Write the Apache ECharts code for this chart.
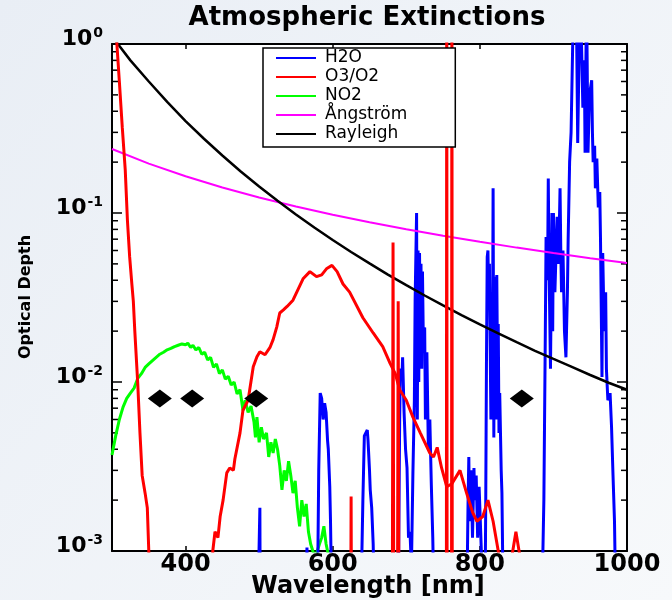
<!DOCTYPE html>
<html>
<head>
<meta charset="utf-8">
<script src="https://cdn.jsdelivr.net/npm/echarts@6/dist/echarts.min.js"></script>
<style>
  html, body { margin: 0; padding: 0; }
  #chart { width: 672px; height: 600px; }
</style>
</head>
<body>
<div id="chart"></div>
<script>
// values, wavelength in nm, optical depth
const B = 0.0004; // below the plotted range (drawn off the bottom)

const waveTicks = [400, 600, 800, 1000];
const depthTicks = [0.001, 0.01, 0.1, 1];
const minorDepthTicks = [
  0.002, 0.003, 0.004, 0.005, 0.006, 0.007, 0.008, 0.009,
  0.02, 0.03, 0.04, 0.05, 0.06, 0.07, 0.08, 0.09,
  0.2, 0.3, 0.4, 0.5, 0.6, 0.7, 0.8, 0.9
];
const legendNames = ['H2O', 'O3/O2', 'NO2', 'Ångström', 'Rayleigh'];

const rayleigh = [
  [305, 1.04], [325, 0.80], [350, 0.60], [375, 0.454], [400, 0.350], [425, 0.275],
  [450, 0.219], [475, 0.176], [500, 0.1435], [525, 0.118], [550, 0.098], [575, 0.082],
  [600, 0.0692], [625, 0.0588], [650, 0.0503], [675, 0.0432], [700, 0.0374], [725, 0.0325],
  [750, 0.0284], [775, 0.0249], [800, 0.0219], [825, 0.0194], [850, 0.0172], [875, 0.0153],
  [900, 0.0137], [925, 0.0123], [950, 0.0110], [975, 0.0099], [1000, 0.0090]
];

const angstrom = [
  [300, 0.239], [350, 0.196], [400, 0.165], [450, 0.1416], [500, 0.1236], [550, 0.1093],
  [600, 0.0977], [650, 0.0882], [700, 0.0801], [750, 0.0733], [800, 0.0675], [850, 0.0624],
  [900, 0.0580], [950, 0.0540], [1000, 0.0506]
];

const no2 = [
  [300, 0.0037], [305, 0.0048], [310, 0.0060], [315, 0.0071], [320, 0.0080], [325, 0.0086],
  [330, 0.0092], [335, 0.0105], [340, 0.0112], [345, 0.0122], [350, 0.0128], [355, 0.0134],
  [360, 0.0140], [365, 0.0146], [370, 0.0150], [375, 0.0155], [380, 0.0158], [385, 0.0162],
  [390, 0.0165], [395, 0.0168], [400, 0.0166], [403, 0.0170], [407, 0.0160], [410, 0.0165],
  [414, 0.0155], [418, 0.0160], [422, 0.0146], [426, 0.0150], [430, 0.0135], [434, 0.0140],
  [438, 0.0122], [442, 0.0128], [446, 0.0112], [450, 0.0118], [454, 0.0104], [458, 0.0108],
  [462, 0.0096], [466, 0.0100], [470, 0.0085], [474, 0.0090], [478, 0.0068], [481, 0.0078],
  [485, 0.0066], [489, 0.0072], [493, 0.0058], [495, 0.0047], [497, 0.0062], [500, 0.0044],
  [503, 0.0054], [506, 0.0046], [510, 0.0050], [513, 0.0036], [516, 0.0044], [519, 0.0038],
  [522, 0.0046], [525, 0.0040], [528, 0.0032], [531, 0.0023], [534, 0.0030], [537, 0.0026],
  [540, 0.0034], [543, 0.0028], [546, 0.0022], [549, 0.0026], [552, 0.0018], [555, 0.0014],
  [558, 0.0020], [561, 0.0016], [564, 0.0019], [567, 0.0013], [570, 0.0011], [573, 0.0010],
  [576, 0.0009], [579, 0.0010], [582, 0.0011], [585, 0.0012], [588, 0.0014], [591, 0.0011],
  [594, 0.00095], [597, 0.0009], [600, B]
];

const o3 = [
  [303, 2.0], [306, 1.1], [310, 0.6], [314, 0.32], [318, 0.18], [321, 0.09], [324, 0.055],
  [327, 0.038], [329, 0.030], [331, 0.020], [335, 0.0098], [338, 0.0050], [341, 0.0028],
  [345, 0.0022], [348, 0.0018], [350, 0.0010], [352, B], [436, B], [437, 0.0010],
  [440, 0.0013], [444, 0.0012], [447, 0.0016], [451, 0.0020], [456, 0.0029], [460, 0.0031],
  [465, 0.0030], [467, 0.0035], [474, 0.0050], [478, 0.0068], [485, 0.0078], [492, 0.0123],
  [497, 0.0141], [501, 0.0151], [508, 0.0145], [515, 0.0161], [519, 0.0178], [524, 0.0212],
  [528, 0.0256], [533, 0.0267], [538, 0.0280], [546, 0.0305], [560, 0.041], [569, 0.045],
  [578, 0.042], [585, 0.043], [592, 0.047], [599, 0.049], [606, 0.045], [614, 0.038],
  [623, 0.034], [641, 0.024], [655, 0.0195], [668, 0.0162], [678, 0.0129], [685, 0.0112],
  [691, 0.0090], [700, 0.0078], [709, 0.0062], [719, 0.0050], [732, 0.0038], [737, 0.0036],
  [742, 0.0041], [748, 0.0031], [755, 0.0024], [762, 0.0025], [773, 0.0030], [782, 0.0022],
  [790, 0.0017], [796, 0.0015], [804, 0.0016], [811, 0.0020], [818, 0.0015], [825, 0.0010],
  [830, 0.0007], [843, 0.0009], [849, 0.0013], [855, 0.0009], [860, B]
];

const o2 = [
  [620, B], [624.5, B], [625, 0.0021], [625.5, B],
  [681, B], [682, 0.067], [683, B], [688, B], [689, 0.03], [690, B],
  [754.5, B], [755, 5], [755.5, B], [761.5, B], [762, 5], [762.5, B], [770, B]
];

const h2o = [
  [498, B], [500.5, B], [501, 0.0018], [501.5, B],
  [563, B], [565, 0.00105], [567, B],
  [579, B], [581, 0.003], [583, 0.0086], [585, 0.0080], [587, 0.0060], [589, 0.0075],
  [591, 0.0066], [593, 0.0045], [594, 0.0040], [596, 0.0024], [597, 0.0015], [599, B],
  [638, B], [641, 0.002], [643, 0.0048], [645, 0.0050], [647, 0.0052], [648, 0.0045],
  [650, 0.0030], [651, 0.0023], [653, 0.0018], [655, 0.0011], [657, B],
  [689, B], [691, 0.006], [692, 0.012], [694, 0.0102], [695, 0.014], [697, 0.0066],
  [699, 0.004], [701, 0.0031], [703, 0.0012], [705, 0.0013], [707, 0.0008], [709, 0.0029],
  [711, 0.0078], [712, 0.03], [714, 0.10], [715, 0.006], [716, 0.06], [717, 0.01],
  [718, 0.058], [719, 0.02], [720, 0.05], [721, 0.012], [722, 0.045], [723, 0.02],
  [725, 0.021], [726, 0.006], [728, 0.015], [730, 0.004], [732, 0.006], [734, 0.0025],
  [736, 0.0012], [738, B],
  [782, B], [784, 0.002], [785, 0.0036], [786, 0.0015], [788, 0.0030], [790, 0.0012],
  [792, 0.0031], [793, 0.002], [795, 0.0028], [797, 0.0012], [799, 0.0024], [800, 0.0018],
  [802, 0.001], [804, B],
  [807, B], [808, 0.002], [809, 0.0135], [810, 0.055], [811, 0.06], [812, 0.03],
  [813, 0.05], [815, 0.006], [817, 0.01], [818, 0.14], [819, 0.0047], [820, 0.042],
  [822, 0.006], [823, 0.043], [824, 0.012], [825, 0.022], [826, 0.005], [827, 0.0086],
  [829, 0.003], [830, 0.0022], [832, B],
  [884, B], [887, 0.002], [889, 0.02], [890, 0.072], [892, 0.04], [893, 0.16], [894, 0.05],
  [896, 0.012], [898, 0.1], [899, 0.02], [900, 0.1], [902, 0.034], [904, 0.034],
  [905, 0.095], [907, 0.05], [909, 0.14], [910, 0.06], [911, 0.034], [913, 0.06],
  [915, 0.02], [917, 0.014], [919, 0.034], [920, 0.069], [922, 0.2], [924, 0.30],
  [926, 0.9], [927, 1.5], [929, 1.2], [931, 2], [933, 0.26], [934, 0.5], [936, 2],
  [938, 1.1], [940, 0.42], [942, 0.8], [943, 0.227], [945, 2], [947, 0.227], [949, 0.5],
  [952, 0.61], [953, 0.3], [954, 0.2], [956, 0.25], [957, 0.14], [959, 0.21], [961, 0.108],
  [963, 0.133], [964, 0.069], [966, 0.0107], [967, 0.058], [969, 0.02], [971, 0.034],
  [972, 0.012], [974, 0.0078], [977, 0.0086], [979, 0.0054], [981, 0.0028], [983, 0.0015],
  [985, B], [1000, B]
];

const filters = [[365, 0.008], [409, 0.008], [496, 0.008], [857, 0.008]];

const axisFont = 'DejaVu Sans';

function lineSeries(name, data, color, width) {
  return {
    name: name,
    type: 'line',
    data: data,
    showSymbol: false,
    symbol: 'none',
    lineStyle: {color: color, width: width},
    itemStyle: {color: color},
    clip: true,
    silent: true
  };
}

const logAxis = (position, showLabel) => ({
  type: 'log',
  logBase: 10,
  min: depthTicks[0],
  max: depthTicks[depthTicks.length - 1],
  position: position,
  axisLine: {show: true, lineStyle: {color: '#000', width: 2}},
  axisTick: {show: true, inside: true, length: 10, lineStyle: {color: '#000', width: 1.5}},
  splitLine: {show: false},
  axisLabel: {
    show: showLabel,
    margin: 9,
    padding: [0, 0, 12, 0],
    formatter(v) {
      return '{b|10}{s|' + Math.round(Math.log10(v)) + '}';
    },
    rich: {
      b: {fontFamily: axisFont, fontWeight: 'bold', fontSize: 22, lineHeight: 24, color: '#000', verticalAlign: 'bottom'},
      s: {fontFamily: axisFont, fontWeight: 'bold', fontSize: 14, lineHeight: 14, padding: [0, 0, 16, 1], color: '#000', verticalAlign: 'top'}
    }
  }
});

const waveAxis = (position, showLabel) => ({
  type: 'value',
  min: 300,
  max: 1000,
  splitNumber: 3,
  position: position,
  axisLine: {show: true, lineStyle: {color: '#000', width: 2}},
  axisTick: {show: true, inside: true, length: 5, lineStyle: {color: '#000', width: 1.5}},
  splitLine: {show: false},
  axisLabel: {
    show: showLabel,
    margin: 2,
    showMinLabel: false,
    fontFamily: axisFont,
    fontWeight: 'bold',
    fontSize: 24,
    color: '#000',
    formatter(v) {
      return waveTicks.indexOf(v) >= 0 ? String(v) : '';
    }
  }
});

const chart = echarts.init(document.getElementById('chart'));
chart.setOption({
  animation: false,
  backgroundColor: {
    type: 'linear', x: 0, y: 0, x2: 1, y2: 1,
    colorStops: [{offset: 0, color: '#e9eef5'}, {offset: 1, color: '#f7f9fb'}]
  },
  grid: {
    left: 112, right: 45, top: 44, bottom: 49,
    containLabel: false, outerBoundsMode: 'none',
    show: true, backgroundColor: '#fff', borderWidth: 0
  },
  graphic: [
    {
      type: 'text', x: 367, y: 18,
      style: {text: 'Atmospheric Extinctions', font: 'bold 26px "DejaVu Sans"', fill: '#000', align: 'center', verticalAlign: 'middle'}
    },
    {
      type: 'text', x: 26, y: 297, rotation: Math.PI / 2,
      style: {text: 'Optical Depth', font: 'bold 16px "DejaVu Sans"', fill: '#000', align: 'center', verticalAlign: 'middle'}
    },
    {
      type: 'text', x: 368, y: 587,
      style: {text: 'Wavelength [nm]', font: 'bold 24px "DejaVu Sans"', fill: '#000', align: 'center', verticalAlign: 'middle'}
    }
  ],
  legend: {
    data: legendNames,
    orient: 'vertical',
    left: 263,
    top: 48,
    icon: 'rect',
    itemWidth: 40,
    itemHeight: 2,
    itemGap: 1,
    padding: [1, 48, 4, 13],
    backgroundColor: '#fff',
    borderColor: '#000',
    borderWidth: 1.5,
    borderRadius: 0,
    selectedMode: false,
    textStyle: {fontFamily: 'DejaVu Sans', fontSize: 17, lineHeight: 18, color: '#000', padding: [0, 0, 0, 4]}
  },
  xAxis: [waveAxis('bottom', true), waveAxis('top', false)],
  yAxis: [logAxis('left', true), logAxis('right', false)],
  series: [
    {
      // minor log ticks (2..9 of each decade) on both vertical axes
      name: 'minorTicks',
      type: 'custom',
      data: minorDepthTicks.map(v => [300, v]),
      silent: true,
      z: 3,
      renderItem(params, api) {
        const v = api.value(1);
        const l = api.coord([300, v]);
        const r = api.coord([1000, v]);
        return {
          type: 'group',
          children: [
            {type: 'line', shape: {x1: l[0], y1: l[1], x2: l[0] + 6, y2: l[1]}, style: {stroke: '#000', lineWidth: 1.5}},
            {type: 'line', shape: {x1: r[0] - 6, y1: r[1], x2: r[0], y2: r[1]}, style: {stroke: '#000', lineWidth: 1.5}}
          ]
        };
      }
    },
    lineSeries('NO2', no2, '#00ff00', 3),
    lineSeries('H2O', h2o, '#0000ff', 3),
    lineSeries('Ångström', angstrom, '#ff00ff', 2),
    lineSeries('Rayleigh', rayleigh, '#000000', 2.5),
    lineSeries('O3/O2', o3, '#ff0000', 3),
    lineSeries('O3/O2', o2, '#ff0000', 3),
    {
      name: 'filters',
      type: 'scatter',
      data: filters,
      symbol: 'diamond',
      symbolSize: [24, 18],
      itemStyle: {color: '#000', opacity: 1},
      silent: true,
      z: 5
    }
  ]
});
</script>
</body>
</html>
